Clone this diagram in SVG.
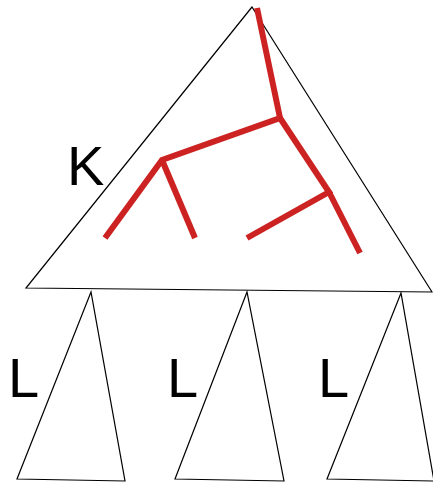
<svg xmlns="http://www.w3.org/2000/svg" width="433" height="483" viewBox="0 0 433 483">
<style>
.tri{fill:none;stroke:#000;stroke-width:1.2;stroke-linejoin:miter}
.br{fill:none;stroke:#cc2222;stroke-width:6;stroke-linecap:butt;stroke-linejoin:miter}
.lbl{font-family:"Liberation Sans",Arial,sans-serif;font-size:56px;fill:#000}
</style>
<rect width="433" height="483" fill="#fff"/>
<g id="K">
<polygon class="tri" points="252,7 26,288 432,292"/>
<text class="lbl" x="67" y="185">K</text>
</g>
<g id="L1">
<polygon class="tri" points="91,292 17,479 125,481"/>
<text class="lbl" x="8" y="397">L</text>
</g>
<g id="L2">
<polygon class="tri" points="247,292 175,479 284,481"/>
<text class="lbl" x="167" y="397">L</text>
</g>
<g id="L3">
<polygon class="tri" points="401,293 327,479 434,481"/>
<text class="lbl" x="318" y="397">L</text>
</g>
<g id="connectors">
<polyline class="br" points="257,8 280,118 162,160 105,238"/>
<line class="br" x1="162" y1="160" x2="195" y2="238"/>
<polyline class="br" points="280,118 329,192 247,238"/>
<line class="br" x1="329" y1="192" x2="360" y2="253"/>
</g>
</svg>
